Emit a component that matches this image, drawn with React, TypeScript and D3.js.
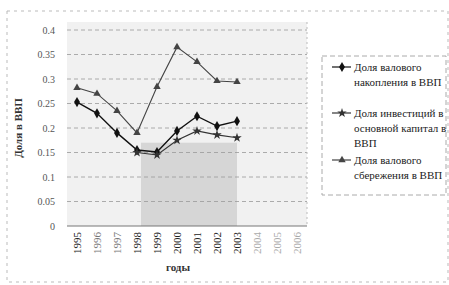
import * as d3 from "d3";
import { useEffect, useRef } from "react";

const years = ["1995", "1996", "1997", "1998", "1999", "2000", "2001", "2002", "2003", "2004", "2005", "2006"];
const yTicks = [0, 0.05, 0.1, 0.15, 0.2, 0.25, 0.3, 0.35, 0.4];

// доля валового накопления
const accumulation: (number | null)[] = [0.253, 0.23, 0.19, 0.155, 0.151, 0.194, 0.224, 0.204, 0.214, null, null, null];
// доля инвестиций в основной капитал
const investment: (number | null)[] = [null, null, null, 0.15, 0.145, 0.175, 0.194, 0.186, 0.18, null, null, null];
// доля валового сбережения
const savings: (number | null)[] = [0.282, 0.27, 0.235, 0.19, 0.284, 0.365, 0.335, 0.296, 0.294, null, null, null];

const legendLines = [
  ["Доля валового", "накопления в ВВП"],
  ["Доля инвестиций в", "основной капитал в", "ВВП"],
  ["Доля валового", "сбережения в ВВП"],
];

const W = 449;
const H = 285;
const margins = { top: 30, left: 67, right: 142, bottom: 59 };
const font = "Liberation Serif, DejaVu Serif, serif";

const drawChart = (target: any) => {
  const svg = d3.select(target);
  svg.selectAll("*").remove();

  const x = d3
    .scaleBand()
    .domain(years)
    .range([margins.left, W - margins.right]);
  const y = d3
    .scaleLinear()
    .domain([0, 0.4])
    .range([H - margins.bottom, margins.top]);
  const cx = (i: number) => (x(years[i]) as number) + x.bandwidth() / 2;

  // outer border of the chart area
  svg
    .append("rect")
    .attr("x", 7)
    .attr("y", 11)
    .attr("width", W - 8)
    .attr("height", H - 14)
    .attr("fill", "white")
    .attr("stroke", "#bbb")
    .attr("stroke-dasharray", "3,4");

  // plot background
  svg
    .append("rect")
    .attr("x", margins.left)
    .attr("y", margins.top - 8)
    .attr("width", W - margins.left - margins.right)
    .attr("height", H - margins.bottom - margins.top + 8)
    .attr("fill", "#f1f1f1");
  // halftone patch of the scan
  svg
    .append("rect")
    .attr("x", cx(3) + 4)
    .attr("y", y(0.17))
    .attr("width", cx(8) - cx(3) - 4)
    .attr("height", y(0) - y(0.17))
    .attr("fill", "#d6d6d6");

  // gridlines
  svg
    .append("g")
    .selectAll("line")
    .data(yTicks.slice(1))
    .join("line")
    .attr("x1", margins.left)
    .attr("x2", W - margins.right)
    .attr("y1", (d) => y(d))
    .attr("y2", (d) => y(d))
    .attr("stroke", "#999")
    .attr("stroke-dasharray", "4,3")
    .attr("stroke-width", 0.8);

  // axes
  svg
    .append("line")
    .attr("x1", margins.left)
    .attr("x2", W - margins.right)
    .attr("y1", y(0))
    .attr("y2", y(0))
    .attr("stroke", "#777");
  svg
    .append("line")
    .attr("x1", W - margins.right)
    .attr("x2", W - margins.right)
    .attr("y1", margins.top - 8)
    .attr("y2", y(0))
    .attr("stroke", "#bbb")
    .attr("stroke-dasharray", "2,3");

  svg
    .append("g")
    .selectAll("text")
    .data(yTicks)
    .join("text")
    .attr("x", margins.left - 12)
    .attr("y", (d) => y(d))
    .attr("dy", "0.35em")
    .attr("text-anchor", "end")
    .style("font-family", font)
    .style("font-size", "10px")
    .attr("fill", "#555")
    .text((d) => (d === 0 ? "0" : String(+d.toFixed(2))));

  svg
    .append("g")
    .selectAll("text")
    .data(years)
    .join("text")
    .attr("transform", (d) => `translate(${(x(d) as number) + x.bandwidth() / 2 + 4},${y(0) + 6}) rotate(-90)`)
    .attr("text-anchor", "end")
    .style("font-family", font)
    .style("font-size", "11px")
    .attr("fill", (d, i) => (i >= 9 ? "#aaa" : i === 2 || i === 1 ? "#777" : "#222"))
    .text((d) => d);

  svg
    .append("text")
    .attr("x", 178)
    .attr("y", 271)
    .attr("text-anchor", "middle")
    .style("font-family", font)
    .style("font-size", "11px")
    .style("font-weight", "bold")
    .attr("fill", "#333")
    .text("годы");

  svg
    .append("text")
    .attr("transform", `translate(22,${y(0.2)}) rotate(-90)`)
    .attr("text-anchor", "middle")
    .style("font-family", font)
    .style("font-size", "11px")
    .style("font-weight", "bold")
    .attr("fill", "#333")
    .text("Доля в ВВП");

  const series = [accumulation, investment, savings];
  const colors = ["#111", "#333", "#444"];
  const line = d3
    .line<number | null>()
    .defined((d) => d !== null)
    .x((d, i) => cx(i))
    .y((d) => y(d as number));

  const diamond = d3.symbol(d3.symbolDiamond, 30);
  const star = d3.symbol(d3.symbolStar, 28);
  const triangle = d3.symbol(d3.symbolTriangle, 24);
  const symbols = [diamond, star, triangle];

  series.forEach((s, k) => {
    svg
      .append("path")
      .attr("d", line(s))
      .attr("fill", "none")
      .attr("stroke", colors[k])
      .attr("stroke-width", k === 0 ? 1.4 : 1.1);
    svg
      .append("g")
      .selectAll("path")
      .data(s.map((v, i) => [v, i] as [number | null, number]).filter((d) => d[0] !== null))
      .join("path")
      .attr("transform", (d) => `translate(${cx(d[1])},${y(d[0] as number)})`)
      .attr("d", symbols[k]() as string)
      .attr("fill", colors[k]);
  });

  // legend
  const legend = svg.append("g");
  legend
    .append("rect")
    .attr("x", 322)
    .attr("y", 56)
    .attr("width", 124)
    .attr("height", 139)
    .attr("fill", "white")
    .attr("stroke", "#aaa")
    .attr("stroke-dasharray", "5,3");
  const rows = [67, 113, 160];
  legendLines.forEach((lines, k) => {
    legend
      .append("line")
      .attr("x1", 332)
      .attr("x2", 351)
      .attr("y1", rows[k])
      .attr("y2", rows[k])
      .attr("stroke", colors[k])
      .attr("stroke-width", 1.2);
    legend
      .append("path")
      .attr("transform", `translate(342,${rows[k]})`)
      .attr("d", symbols[k]() as string)
      .attr("fill", colors[k]);
    lines.forEach((t, j) => {
      legend
        .append("text")
        .attr("x", 354)
        .attr("y", rows[k] + j * 15)
        .attr("dy", "0.35em")
        .style("font-family", font)
        .style("font-size", "11px")
        .attr("fill", "#222")
        .text(t);
    });
  });
};

const App = () => {
  const ref = useRef<SVGSVGElement>(null);
  useEffect(() => {
    if (ref.current) drawChart(ref.current);
  }, []);
  return (
    <svg
      ref={ref}
      width={W}
      height={H}
      style={{ position: "absolute", left: 0, top: 0, background: "white" }}
    />
  );
};

export default App;
